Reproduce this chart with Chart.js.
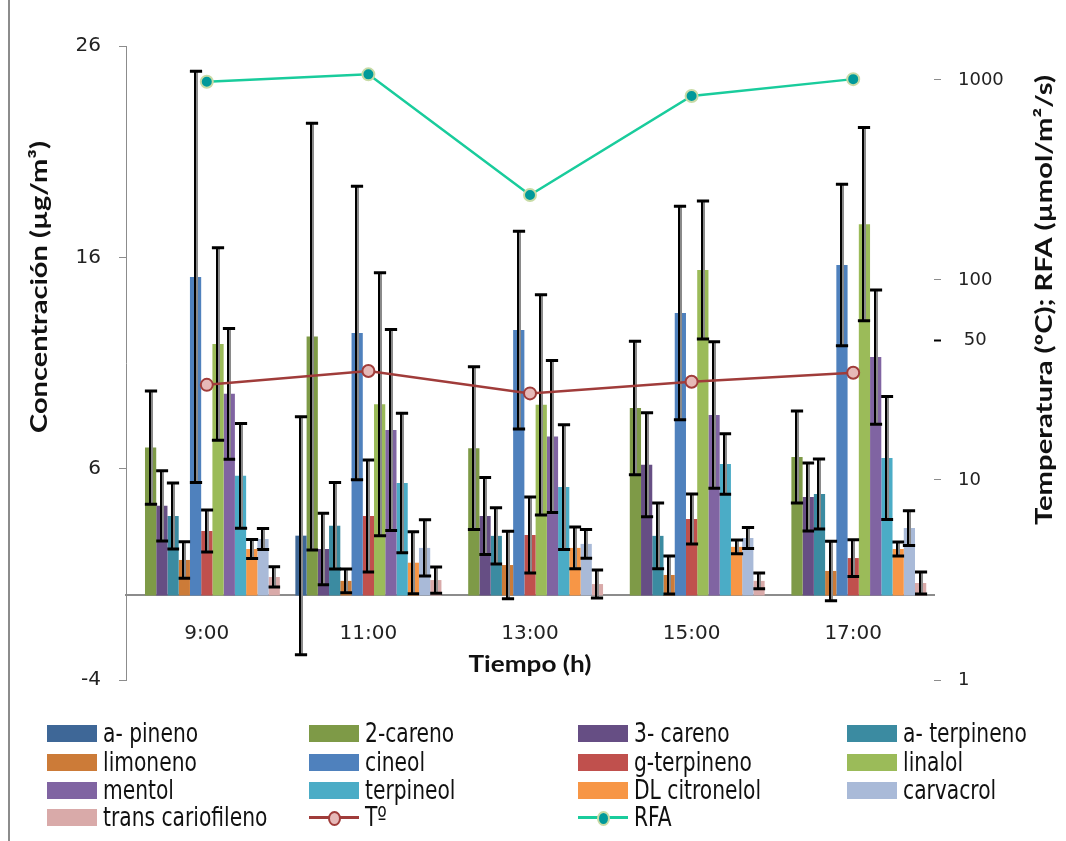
<!DOCTYPE html>
<html>
<head>
<meta charset="utf-8">
<script src="https://cdn.jsdelivr.net/npm/chart.js@4.4.1/dist/chart.umd.min.js"></script>
<style>
  html, body { margin: 0; padding: 0; background: #fff; }
  #wrap { position: relative; width: 1066px; height: 841px; overflow: hidden; background: #fff; }
  #wrap canvas { position: absolute; left: 0; top: 0; }
  #frame { position: absolute; left: 8px; top: 0; width: 2px; height: 841px; background: #8c8c8c; }
  #legend { position: absolute; left: 0; top: 0; width: 1066px; height: 841px; pointer-events: none;
            font-family: "Liberation Sans Narrow", "DejaVu Sans Condensed", sans-serif; font-size: 22.5px; color: #111; }
  .item { position: absolute; height: 22px; display: flex; align-items: center; white-space: nowrap; }
  .item span { display: inline-block; transform: scaleY(1.15); transform-origin: 50% 50%; }
  .sw { width: 50px; height: 17px; margin-right: 6px; position: relative; flex: none; }
  .sw .ln { position: absolute; left: 0; right: 0; top: 7px; height: 3px; }
  .sw .dot { position: absolute; left: 19px; top: 2px; width: 9px; height: 11px; border-radius: 50%; border: 2px solid; }
</style>
</head>
<body>
<div id="wrap">
  <canvas id="chart" width="1066" height="841"></canvas>
  <div id="frame"></div>
  <div id="legend"></div>
</div>
<script>
// Sampling times
const categories = ['9:00', '11:00', '13:00', '15:00', '17:00'];

// Mean concentration (µg/m³) per compound, and its error (±)
const aPineno          = [null, 2.83, null, null, null];
const aPinenoErr       = [null, 5.63, null, null, null];
const careno2          = [7.00, 12.25, 6.97, 8.87, 6.55];
const careno2Err       = [2.68, 10.10, 3.85, 3.16, 2.18];
const careno3          = [4.24, 2.20, 3.76, 6.18, 4.66];
const careno3Err       = [1.66, 1.69, 1.82, 2.46, 1.61];
const aTerpineno       = [3.76, 3.30, 2.82, 2.82, 4.80];
const aTerpinenoErr    = [1.56, 2.05, 1.33, 1.55, 1.66];
const limoneno         = [1.68, 0.69, 1.44, 0.97, 1.16];
const limonenoErr      = [0.86, 0.56, 1.60, 0.90, 1.41];
const cineol           = [15.07, 12.42, 12.56, 13.37, 15.64];
const cineolErr        = [9.73, 6.94, 4.68, 5.05, 3.82];
const gTerpineno       = [3.05, 3.76, 2.86, 3.62, 1.77];
const gTerpinenoErr    = [0.99, 2.65, 1.80, 1.18, 0.87];
const linalol          = [11.90, 9.05, 9.02, 15.40, 17.57];
const linalolErr       = [4.55, 6.22, 5.21, 3.27, 4.57];
const mentol           = [9.54, 7.83, 7.52, 8.54, 11.28];
const mentolErr        = [3.09, 4.76, 3.60, 3.47, 3.18];
const terpineol        = [5.66, 5.32, 5.13, 6.22, 6.51];
const terpineolErr     = [2.48, 3.30, 2.95, 1.43, 2.91];
const dlCitronelol     = [2.20, 1.55, 2.25, 2.30, 2.20];
const dlCitronelolErr  = [0.45, 1.47, 0.99, 0.33, 0.33];
const carvacrol        = [2.67, 2.25, 2.44, 2.72, 3.19];
const carvacrolErr     = [0.50, 1.33, 0.68, 0.50, 0.82];
const transCariofileno = [0.875, 0.73, 0.54, 0.69, 0.59];
const transCariofilenoErr = [0.48, 0.62, 0.66, 0.37, 0.52];

// Temperature (ºC) and photosynthetically active radiation (µmol/m²/s)
const temperatura = [29.9, 35.1, 27.1, 31.0, 34.4];
const rfa         = [980, 1067, 266, 832, 1010];

// Axis ticks
const leftTicks  = [-4, 6, 16, 26];
const rightTicks = [1, 10, 50, 100, 1000];

const barSeries = [
  ['a- pineno',         aPineno,          aPinenoErr,          '#3E6797'],
  ['2-careno',          careno2,          careno2Err,          '#7E9A47'],
  ['3- careno',         careno3,          careno3Err,          '#664E84'],
  ['a- terpineno',      aTerpineno,       aTerpinenoErr,       '#3B8BA1'],
  ['limoneno',          limoneno,         limonenoErr,         '#CC7B38'],
  ['cineol',            cineol,           cineolErr,           '#4F81BD'],
  ['g-terpineno',       gTerpineno,       gTerpinenoErr,       '#C0504D'],
  ['linalol',           linalol,          linalolErr,          '#9BBB59'],
  ['mentol',            mentol,           mentolErr,           '#8064A2'],
  ['terpineol',         terpineol,        terpineolErr,        '#4BACC6'],
  ['DL citronelol',     dlCitronelol,     dlCitronelolErr,     '#F79646'],
  ['carvacrol',         carvacrol,        carvacrolErr,        '#A9BAD8'],
  ['trans cariofileno', transCariofileno, transCariofilenoErr, '#D9AAA9']
];

const datasets = barSeries.map(([label, values, errors, color]) => ({
  type: 'bar', label, data: values, errors, yAxisID: 'y', order: 2,
  backgroundColor: color, borderWidth: 0,
  categoryPercentage: 0.904, barPercentage: 1.0
}));

datasets.push({
  type: 'line', label: 'Tº', data: temperatura, yAxisID: 'y2', order: 1,
  borderColor: '#A03C3A', borderWidth: 2.5, tension: 0,
  pointRadius: 6, pointBorderWidth: 2, pointBackgroundColor: '#E6B9B8', pointBorderColor: '#A03C3A'
});
datasets.push({
  type: 'line', label: 'RFA', data: rfa, yAxisID: 'y2', order: 0,
  borderColor: '#19CC9C', borderWidth: 2.5, tension: 0,
  pointRadius: 6, pointBorderWidth: 2, pointBackgroundColor: '#00999A', pointBorderColor: '#C8DBA6'
});

// Symmetric error bars on each bar, drawn right after its series
const errorBars = {
  id: 'errorBars',
  afterDatasetDraw(chart, args) {
    const ds = chart.data.datasets[args.index];
    if (!ds.errors) return;
    const y = chart.scales.y;
    const ctx = chart.ctx;
    ctx.save();
    args.meta.data.forEach((bar, i) => {
      const v = ds.data[i], e = ds.errors[i];
      if (v == null || e == null) return;
      const x = Math.round(bar.x);
      const yTop = y.getPixelForValue(v + e);
      const yBot = y.getPixelForValue(v - e);
      const half = bar.width / 2 + 0.5;
      ctx.lineWidth = 2;
      ctx.strokeStyle = '#000';
      ctx.beginPath(); ctx.moveTo(x - 1, yTop); ctx.lineTo(x - 1, yBot); ctx.stroke();
      ctx.strokeStyle = '#8a8a8a';
      ctx.beginPath(); ctx.moveTo(x + 1, yTop); ctx.lineTo(x + 1, yBot); ctx.stroke();
      ctx.lineWidth = 3;
      ctx.strokeStyle = '#000';
      ctx.beginPath();
      ctx.moveTo(x - half, yTop); ctx.lineTo(x + half, yTop);
      ctx.moveTo(x - half, yBot); ctx.lineTo(x + half, yBot);
      ctx.stroke();
    });
    ctx.restore();
  }
};

// Axis titles, each stretched to a given run length
function fittedText(ctx, text, cx, cy, length, angle) {
  ctx.save();
  ctx.translate(cx, cy);
  ctx.rotate(angle);
  const w = ctx.measureText(text).width;
  ctx.scale(length / w, 1);
  ctx.fillText(text, 0, 0);
  ctx.restore();
}

const axisTitles = {
  id: 'axisTitles',
  afterDraw(chart) {
    const ctx = chart.ctx;
    const area = chart.chartArea;
    ctx.save();
    ctx.fillStyle = '#111';
    ctx.textAlign = 'center';
    ctx.textBaseline = 'middle';
    ctx.font = 'bold 23px Lato';
    fittedText(ctx, 'Concentración (µg/m³)', 40, 287, 292, -Math.PI / 2);
    fittedText(ctx, 'Temperatura (ºC); RFA (µmol/m²/s)', 1045, 300, 450, -Math.PI / 2);
    ctx.font = 'bold 22px Lato';
    fittedText(ctx, 'Tiempo (h)', (area.left + area.right) / 2, 665, 123, 0);
    ctx.restore();
  }
};

const chart = new Chart(document.getElementById('chart'), {
  data: { labels: categories, datasets },
  options: {
    responsive: false,
    animation: false,
    layout: { padding: { left: 0, right: 0, top: 46, bottom: 161 } },
    plugins: { legend: { display: false }, tooltip: { enabled: false } },
    scales: {
      x: {
        position: { y: 0 },
        offset: true,
        grid: { display: false },
        border: { display: true, color: '#8c8c8c', width: 2 },
        ticks: { padding: 18, font: { family: 'DejaVu Sans', size: 20 }, color: '#222', maxRotation: 0 }
      },
      y: {
        position: 'left',
        min: -4, max: 26,
        afterBuildTicks: s => { s.ticks = leftTicks.map(value => ({ value })); },
        afterFit: s => { s.width = 126; },
        grid: { drawOnChartArea: false, drawTicks: true, tickLength: 7, color: '#8c8c8c' },
        border: { display: true, color: '#8c8c8c', width: 1 },
        ticks: { padding: 18, font: { family: 'DejaVu Sans', size: 20 }, color: '#222' }
      },
      y2: {
        type: 'logarithmic',
        position: 'right',
        min: 1, max: 1479,
        afterBuildTicks: s => { s.ticks = rightTicks.map(value => ({ value })); },
        afterFit: s => { s.width = 1066 - 934; },
        grid: {
          drawOnChartArea: false, drawTicks: true, tickLength: 7,
          color: c => (c.tick && c.tick.value === 50 ? '#000' : '#8c8c8c'),
          tickWidth: c => (c.tick && c.tick.value === 50 ? 2 : 1)
        },
        border: { display: false },
        ticks: { padding: 17, font: { family: 'DejaVu Sans', size: 18 }, color: '#222',
                 callback: v => (v === 50 ? ' 50' : String(v)) }
      }
    }
  },
  plugins: [errorBars, axisTitles]
});

// Legend laid out in four columns, built from the chart's datasets
const legendEl = document.getElementById('legend');
const colX = [47, 309, 578, 847];
const rowY = [733, 762, 790, 817];
chart.data.datasets.forEach((ds, i) => {
  const item = document.createElement('div');
  item.className = 'item';
  item.style.left = colX[i % 4] + 'px';
  item.style.top = (rowY[Math.floor(i / 4)] - 11) + 'px';
  const sw = document.createElement('div');
  sw.className = 'sw';
  if (ds.type === 'bar') {
    sw.style.background = ds.backgroundColor;
  } else {
    const ln = document.createElement('div');
    ln.className = 'ln';
    ln.style.background = ds.borderColor;
    const dot = document.createElement('div');
    dot.className = 'dot';
    dot.style.background = ds.pointBackgroundColor;
    dot.style.borderColor = ds.pointBorderColor;
    sw.appendChild(ln);
    sw.appendChild(dot);
  }
  const txt = document.createElement('span');
  txt.textContent = ds.label;
  item.appendChild(sw);
  item.appendChild(txt);
  legendEl.appendChild(item);
});
</script>
</body>
</html>
